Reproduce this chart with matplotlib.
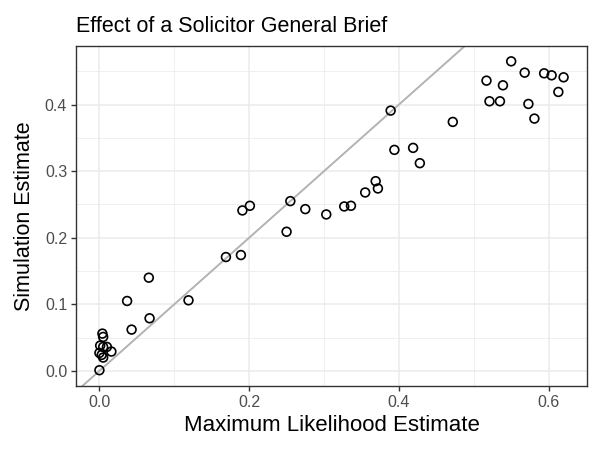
import numpy as np
import matplotlib.pyplot as plt

plt.rcParams['font.family'] = ['Liberation Sans', 'DejaVu Sans']

# maximum likelihood estimates (x) and simulation estimates (y)
mle = [0.000, 0.004, 0.005, 0.001, 0.005, 0.010, 0.016, 0.000, 0.003, 0.005,
       0.037, 0.043, 0.066, 0.067, 0.119, 0.169, 0.189, 0.191, 0.201, 0.250,
       0.255, 0.275, 0.303, 0.327, 0.336, 0.355, 0.369, 0.372, 0.389, 0.394,
       0.419, 0.428, 0.472, 0.517, 0.521, 0.535, 0.539, 0.550, 0.568, 0.573,
       0.581, 0.594, 0.604, 0.613, 0.620]
sim = [0.001, 0.056, 0.051, 0.038, 0.036, 0.036, 0.029, 0.027, 0.024, 0.020,
       0.105, 0.062, 0.140, 0.079, 0.106, 0.171, 0.174, 0.241, 0.248, 0.209,
       0.255, 0.243, 0.235, 0.247, 0.248, 0.268, 0.285, 0.274, 0.391, 0.332,
       0.335, 0.312, 0.374, 0.436, 0.405, 0.405, 0.429, 0.465, 0.448, 0.401,
       0.379, 0.447, 0.444, 0.419, 0.441]

x_ticks = [0.0, 0.2, 0.4, 0.6]
y_ticks = [0.0, 0.1, 0.2, 0.3, 0.4]

fig = plt.figure(figsize=(6, 4.5), dpi=100)
ax = fig.add_axes([0.127, 0.143, 0.851, 0.755])

# ggplot-style 5% expansion
def expand(v):
    lo, hi = min(v), max(v)
    w = hi - lo
    return lo - 0.05 * w, hi + 0.05 * w

ax.set_xlim(expand(mle))
ax.set_ylim(expand(sim))

ax.set_xticks(x_ticks)
ax.set_yticks(y_ticks)
ax.set_xticks([0.1, 0.3, 0.5], minor=True)
ax.set_yticks([0.05, 0.15, 0.25, 0.35, 0.45], minor=True)
ax.grid(True, which='major', color='#EBEBEB', linewidth=1.1)
ax.grid(True, which='minor', color='#EBEBEB', linewidth=0.55)
ax.set_axisbelow(True)

ax.axline((0, 0), slope=1, color='#B3B3B3', linewidth=1.4, zorder=2)
ax.scatter(mle, sim, s=40, facecolors='none', edgecolors='black',
           linewidths=1.2, zorder=3)

for s in ax.spines.values():
    s.set_color('#333333')
    s.set_linewidth(1.0)

ax.tick_params(which='major', length=3.5, width=1.0, color='#333333',
               labelsize=11.5, labelcolor='#4D4D4D', pad=3)
ax.tick_params(which='minor', length=0)
ax.set_xticklabels(['0.0', '0.2', '0.4', '0.6'])
ax.set_yticklabels(['0.0', '0.1', '0.2', '0.3', '0.4'])

ax.set_xlabel('Maximum Likelihood Estimate', fontsize=16, labelpad=4)
ax.set_ylabel('Simulation Estimate', fontsize=15.5, labelpad=7)
ax.set_title('Effect of a Solicitor General Brief', fontsize=15.5, loc='left', pad=10)

plt.savefig('out.png', dpi=100)
